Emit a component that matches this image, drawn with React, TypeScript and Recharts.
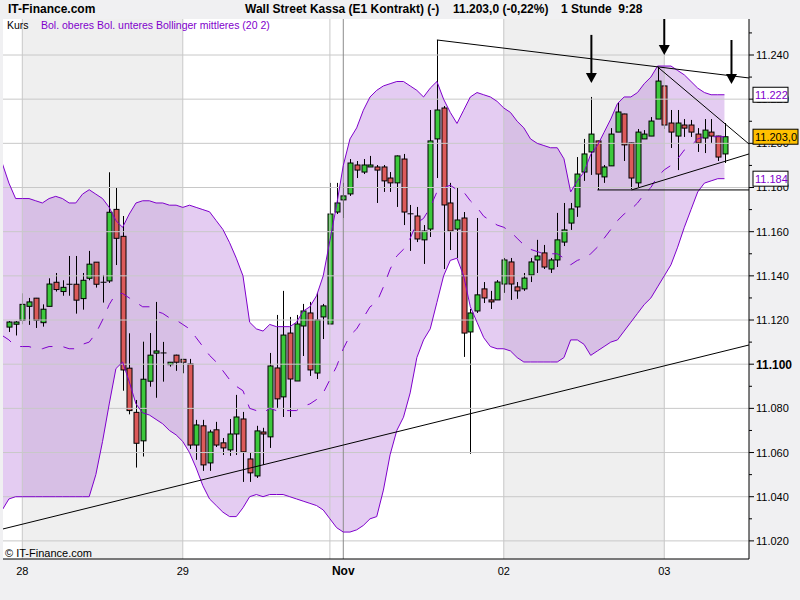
import React from "react";
import {
  ComposedChart,
  XAxis,
  YAxis,
  CartesianGrid,
  Area,
  Line,
  Bar,
  ReferenceLine,
  ReferenceArea,
  ReferenceDot,
} from "recharts";

// hourly index: 0 = 28th 00:00, 24 = 29th, 48 = Nov 1st, ...
const bandStart = -3;
const candleStart = -2;

const upperBand = [
  11191, 11182, 11175, 11175, 11175, 11174, 11173, 11175, 11176, 11175,
  11173, 11173, 11177, 11179, 11177, 11175, 11171, 11165, 11162, 11168,
  11173, 11174, 11174, 11173, 11173, 11172, 11172, 11171, 11172, 11171,
  11170, 11169, 11165, 11161, 11155, 11148, 11140, 11119, 11116, 11115,
  11118, 11117, 11117, 11117, 11119, 11124, 11126, 11131, 11140, 11156,
  11172, 11190, 11202, 11207, 11215, 11221, 11224, 11226, 11227, 11228,
  11228, 11226, 11224, 11221, 11225, 11228, 11220, 11214, 11209, 11215,
  11221, 11223, 11222, 11221, 11219, 11216, 11214, 11210, 11207, 11202,
  11200, 11199, 11198, 11198, 11193, 11178, 11183, 11187, 11195, 11199,
  11205, 11211, 11218, 11221, 11221, 11223, 11227, 11230, 11235, 11235,
  11235, 11233, 11231, 11228, 11225, 11223, 11222, 11222, 11222,
];

const lowerBand = [
  11034, 11039, 11040, 11040, 11040, 11040, 11040, 11040, 11040, 11040,
  11040, 11040, 11040, 11040, 11050, 11065, 11082, 11098, 11101, 11092,
  11082, 11078, 11077, 11075, 11073, 11070, 11068, 11065, 11060, 11053,
  11045, 11039, 11036, 11033, 11031, 11031, 11035, 11040, 11041, 11040,
  11041, 11041, 11041, 11040, 11039, 11038, 11037, 11036, 11034, 11030,
  11026, 11024, 11024, 11025, 11027, 11030, 11031, 11043, 11059, 11070,
  11076, 11087, 11103, 11111, 11116, 11128, 11140, 11147, 11148, 11140,
  11126, 11119, 11112, 11108, 11107, 11107, 11106, 11103, 11101, 11101,
  11101, 11101, 11101, 11101, 11103, 11111, 11111, 11109, 11104, 11106,
  11108, 11110, 11111, 11115, 11119, 11123, 11127, 11130, 11135, 11140,
  11145, 11153, 11162, 11170, 11178, 11182, 11183, 11184, 11184,
];

const middleBand = [
  11113, 11111, 11108, 11108, 11108, 11107, 11107, 11108, 11108, 11108,
  11107, 11107, 11109, 11110, 11114, 11120, 11127, 11132, 11132, 11130,
  11128, 11126, 11126, 11124, 11123, 11121, 11120, 11118, 11116, 11112,
  11108, 11104, 11101, 11097, 11093, 11090, 11088, 11080, 11079, 11078,
  11080, 11079, 11079, 11079, 11079, 11081, 11082, 11084, 11087, 11093,
  11099, 11107, 11113, 11116, 11121, 11126, 11128, 11135, 11143, 11149,
  11152, 11157, 11164, 11166, 11171, 11178, 11180, 11181, 11179, 11178,
  11174, 11171, 11167, 11165, 11163, 11162, 11160, 11157, 11154, 11152,
  11151, 11150, 11150, 11150, 11148, 11145, 11147, 11148, 11150, 11153,
  11157, 11161, 11165, 11168, 11170, 11173, 11177, 11180, 11185, 11188,
  11190, 11193, 11197, 11199, 11202, 11203, 11203, 11203, 11203,
];

const opens = [
  11116.8, 11118.1, 11119.9, 11126.2, 11129.9, 11118.8, 11126.2, 11137.1, 11132.9, 11136.2,
  11136.2, 11129.7, 11138.9, 11146.2, 11137.1, 11137.7, 11170.1, 11157.9, 11098.2, 11078.2,
  11065.3, 11092.3, 11105.0, 11105.0, 11099.8, 11104.1, 11102.2, 11100.1, 11063.4, 11072.1,
  11055.3, 11070.3, 11064.4, 11061.2, 11068.4, 11075.2, 11057.1, 11049.4, 11069.3, 11067.1,
  11098.3, 11085.2, 11114.1, 11092.4, 11117.3, 11123.2, 11096.0, 11121.4, 11118.2, 11168.9,
  11174.4, 11177.1, 11190.2, 11187.0, 11189.3, 11189.3, 11189.3, 11184.3, 11182.1, 11192.9,
  11168.0, 11167.1, 11156.3, 11161.2, 11202.0, 11216.0, 11173.0, 11161.2, 11166.2, 11114.6,
  11124.1, 11134.1, 11129.1, 11129.1, 11136.3, 11146.3, 11135.0, 11134.1, 11140.4, 11147.2,
  11150.4, 11143.1, 11147.2, 11155.3, 11163.9, 11171.2, 11187.0, 11196.1, 11201.1, 11184.8,
  11189.8, 11205.1, 11213.3, 11200.2, 11182.1, 11202.0, 11203.3, 11211.0, 11226.0, 11209.2,
  11203.3, 11208.3, 11208.3, 11204.2, 11202.4, 11205.1, 11203.3, 11195.2,
];

const highs = [
  11119.5, 11119.5, 11132.1, 11130.0, 11130.0, 11127.1, 11138.9, 11141.3, 11138.0, 11149.0,
  11149.0, 11141.3, 11151.3, 11146.2, 11140.4, 11186.9, 11180.2, 11167.1, 11114.0, 11083.8,
  11110.2, 11114.1, 11128.2, 11110.1, 11101.0, 11104.3, 11102.4, 11102.4, 11074.8, 11074.8,
  11070.3, 11073.9, 11066.6, 11075.2, 11086.1, 11078.4, 11059.8, 11072.1, 11071.2, 11105.1,
  11122.3, 11133.2, 11121.4, 11122.3, 11127.3, 11128.2, 11132.3, 11127.3, 11182.1, 11182.1,
  11182.1, 11192.9, 11192.0, 11192.9, 11194.3, 11190.2, 11190.2, 11187.0, 11194.5, 11195.2,
  11172.1, 11171.2, 11163.0, 11215.1, 11246.8, 11216.9, 11182.1, 11179.8, 11168.9, 11125.0,
  11166.2, 11137.2, 11133.2, 11138.1, 11148.1, 11148.1, 11137.2, 11141.3, 11148.1, 11156.3,
  11154.0, 11148.1, 11168.5, 11173.0, 11173.0, 11193.8, 11202.0, 11221.0, 11201.2, 11190.2,
  11206.9, 11218.7, 11213.4, 11200.3, 11206.5, 11206.0, 11211.9, 11234.6, 11226.1, 11215.1,
  11215.1, 11211.0, 11210.6, 11206.9, 11211.0, 11211.0, 11203.4, 11209.2,
];

const lows = [
  11114.6, 11113.0, 11118.1, 11117.8, 11116.4, 11117.0, 11126.2, 11132.9, 11131.0, 11131.0,
  11122.9, 11124.7, 11138.0, 11134.7, 11127.9, 11136.8, 11144.9, 11088.0, 11077.3, 11053.2,
  11058.2, 11089.8, 11084.8, 11092.1, 11098.9, 11097.0, 11095.9, 11061.6, 11056.7, 11051.7,
  11051.7, 11062.5, 11058.9, 11058.5, 11058.9, 11046.7, 11046.7, 11048.5, 11054.4, 11062.1,
  11080.2, 11076.1, 11076.1, 11092.4, 11103.7, 11094.7, 11093.3, 11111.4, 11118.2, 11168.0,
  11166.2, 11176.2, 11184.3, 11186.1, 11189.3, 11173.0, 11178.0, 11178.0, 11171.2, 11163.0,
  11151.3, 11155.3, 11145.4, 11157.6, 11184.3, 11143.1, 11151.7, 11148.1, 11103.3, 11059.4,
  11123.2, 11127.7, 11125.0, 11129.1, 11132.3, 11129.1, 11129.6, 11133.2, 11137.2, 11141.3,
  11143.1, 11141.3, 11144.0, 11153.5, 11160.8, 11166.7, 11183.0, 11185.7, 11178.9, 11182.1,
  11189.8, 11205.1, 11192.0, 11179.3, 11179.8, 11202.0, 11203.3, 11211.0, 11206.5, 11197.9,
  11187.9, 11202.9, 11202.9, 11196.1, 11195.6, 11200.2, 11192.0, 11191.1,
];

const closes = [
  11119.1, 11119.1, 11127.1, 11128.2, 11119.9, 11124.9, 11136.3, 11133.8, 11134.8, 11136.1,
  11129.0, 11138.0, 11145.3, 11136.2, 11137.0, 11168.8, 11157.0, 11097.4, 11079.0, 11064.2,
  11093.2, 11104.1, 11106.0, 11105.1, 11100.9, 11100.9, 11100.9, 11063.4, 11072.5, 11054.4,
  11069.3, 11063.4, 11062.1, 11068.4, 11076.1, 11060.3, 11050.8, 11069.8, 11068.4, 11099.2,
  11084.3, 11113.2, 11093.3, 11118.2, 11124.1, 11097.4, 11120.0, 11126.4, 11168.0, 11173.0,
  11176.2, 11191.1, 11187.9, 11190.2, 11190.2, 11187.9, 11183.0, 11182.1, 11194.3, 11168.9,
  11168.1, 11156.7, 11160.3, 11201.1, 11215.1, 11172.1, 11160.3, 11165.3, 11114.1, 11123.2,
  11131.4, 11130.0, 11128.2, 11137.2, 11147.2, 11136.3, 11133.2, 11139.0, 11146.3, 11149.0,
  11144.0, 11147.2, 11156.3, 11160.8, 11170.3, 11186.1, 11195.2, 11204.2, 11186.1, 11189.3,
  11204.2, 11214.2, 11199.3, 11184.3, 11205.1, 11204.2, 11210.1, 11228.2, 11208.3, 11205.1,
  11209.2, 11206.9, 11205.1, 11200.2, 11206.0, 11203.3, 11193.8, 11203.0,
];

const dayTicks = [0, 24, 48, 72, 96];
const dayLabels = ["28", "29", "Nov", "02", "03"];
const priceTicks = [
  11020, 11030, 11040, 11050, 11060, 11070, 11080, 11090, 11100, 11110, 11120, 11130,
  11140, 11150, 11160, 11170, 11180, 11190, 11200, 11210, 11220, 11230, 11240, 11250,
];

// last values shown in boxes on the price axis (drawn after the regular ticks)
const markValues = [11222, 11203, 11184];
const markLabels = ["11.222", "11.203,0", "11.184"];

const xDomain = [-2.886, 108.67];
const yDomain = [11011.8, 11256.3];

const PURPLE = "#7f00cc";
const GREEN = "#3cc83c";
const RED = "#dc5a5a";
const FONT = '"Liberation Sans", Arial, sans-serif';

const rows = upperBand.map((up, k) => {
  const i = bandStart + k;
  const j = i - candleStart;
  const has = j >= 0 && j < opens.length;
  return {
    i,
    up,
    lo: lowerBand[k],
    mid: middleBand[k],
    band: [lowerBand[k], up],
    o: has ? opens[j] : null,
    h: has ? highs[j] : null,
    l: has ? lows[j] : null,
    c: has ? closes[j] : null,
    range: has ? [lows[j], highs[j]] : null,
  };
});

const fmt = (v: number) => {
  const s = String(Math.round(v));
  return s.slice(0, -3) + "." + s.slice(-3);
};

const Candle = (props: any) => {
  const { x, y, width, height, payload } = props;
  if (!payload || payload.o == null) return null;
  const { o, h, l, c } = payload;
  const cx = Math.round(x + width / 2) + 0.5;
  const span = h - l;
  const k = span > 0 ? height / span : 0;
  const py = (v: number) => y + (h - v) * k;
  const top = py(Math.max(o, c));
  const bot = py(Math.min(o, c));
  return (
    <g>
      <line x1={cx} x2={cx} y1={y} y2={y + height} stroke="#000" strokeWidth={1} />
      {bot - top < 1.2 ? (
        <line x1={cx - 3} x2={cx + 3} y1={top} y2={top} stroke="#000" strokeWidth={1} />
      ) : (
        <rect
          x={cx - 2.5}
          y={top}
          width={5}
          height={bot - top}
          fill={c >= o ? GREEN : RED}
          stroke="#000"
          strokeWidth={1}
        />
      )}
    </g>
  );
};

const PriceTick = (props: any) => {
  const { x, y, payload } = props;
  const v = payload.value;
  const n = markValues.indexOf(v);
  if (n >= 0) {
    const current = n === 1;
    const left = x - 2;
    return (
      <g>
        <rect
          x={left}
          y={y - 7.5}
          width={current ? 45 : 35}
          height={15}
          fill={current ? "#ffc000" : "#ffffff"}
          stroke="#000"
        />
        <text
          x={left + 2}
          y={y}
          dy="0.36em"
          fontSize={11}
          fontFamily={FONT}
          fill={current ? "#000" : PURPLE}
        >
          {markLabels[n]}
        </text>
      </g>
    );
  }
  const major = Math.round(v) % 20 === 0;
  const bold = Math.round(v) === 11100;
  return (
    <g>
      <line x1={x - 6} x2={major ? x - 1 : x - 3} y1={y} y2={y} stroke="#000" />
      {major && (
        <text
          x={x + 1}
          y={y}
          dy="0.36em"
          fontSize={bold ? 12 : 11}
          fontWeight={bold ? "bold" : "normal"}
          fontFamily={FONT}
          fill="#000"
        >
          {fmt(v)}
        </text>
      )}
    </g>
  );
};

const DayTick = (props: any) => {
  const { x, y, payload } = props;
  const idx = dayTicks.indexOf(payload.value);
  const label = dayLabels[idx] ?? "";
  const bold = label === "Nov";
  return (
    <text
      x={x}
      y={y + 16}
      textAnchor="middle"
      fontSize={bold ? 12 : 11}
      fontWeight={bold ? "bold" : "normal"}
      fontFamily={FONT}
      fill="#000"
    >
      {label}
    </text>
  );
};

const arrowHead = (props: any) => {
  const { cx, cy } = props;
  return (
    <polygon
      points={`${cx - 5.5},${cy - 10} ${cx + 5.5},${cy - 10} ${cx},${cy}`}
      fill="#000"
    />
  );
};

const arrows = [
  { x: 85.1, top: 11249.1, tip: 11227.3 },
  { x: 96.0, top: 11256.3, tip: 11240.0 },
  { x: 106.05, top: 11246.8, tip: 11226.9 },
];

const trendLines = [
  [{ x: -2.886, y: 11025.4 }, { x: 108.67, y: 11108.7 }],
  [{ x: 62, y: 11246.8 }, { x: 108.67, y: 11229.6 }],
  [{ x: 95, y: 11234.6 }, { x: 108.67, y: 11199.7 }],
  [{ x: 86, y: 11178.9 }, { x: 108.67, y: 11178.9 }],
  [{ x: 91.1, y: 11178.9 }, { x: 108.67, y: 11195.2 }],
];

const txt = (style: React.CSSProperties): React.CSSProperties => ({
  position: "absolute",
  fontFamily: FONT,
  whiteSpace: "pre",
  lineHeight: "14px",
  ...style,
});

export default function App() {
  return (
    <div
      style={{
        position: "absolute",
        left: 0,
        top: 0,
        width: 800,
        height: 600,
        background: "#f0f0f2",
        overflow: "hidden",
      }}
    >
      <ComposedChart
        width={800}
        height={600}
        data={rows}
        margin={{ top: 19, right: 0, bottom: 0, left: 3 }}
      >
        <CartesianGrid horizontal={false} vertical={false} fill="#ffffff" />
        <XAxis
          dataKey="i"
          type="number"
          domain={xDomain}
          allowDataOverflow
          ticks={dayTicks}
          tick={<DayTick />}
          tickLine={false}
          tickSize={0}
          tickMargin={0}
          axisLine={{ stroke: "#000" }}
          height={41}
          interval={0}
        />
        <XAxis
          xAxisId="top"
          orientation="top"
          dataKey="i"
          type="number"
          domain={xDomain}
          allowDataOverflow
          tick={false}
          tickLine={false}
          axisLine={{ stroke: "#000" }}
          height={0}
        />
        <YAxis
          orientation="right"
          type="number"
          domain={yDomain}
          allowDataOverflow
          ticks={[...priceTicks, ...markValues]}
          tick={<PriceTick />}
          tickLine={false}
          tickSize={5}
          tickMargin={1}
          axisLine={{ stroke: "#000" }}
          width={51}
          interval={0}
        />
        <YAxis
          yAxisId="left"
          orientation="left"
          type="number"
          domain={yDomain}
          allowDataOverflow
          tick={false}
          tickLine={false}
          axisLine={{ stroke: "#000" }}
          width={0}
        />

        <ReferenceArea x1={0} x2={24} fill="#efefef" fillOpacity={1} stroke="none" />
        <ReferenceArea x1={72} x2={96} fill="#efefef" fillOpacity={1} stroke="none" />

        {priceTicks
          .filter((v) => v % 20 === 0 && v < 11250)
          .map((v) => (
            <ReferenceLine key={"h" + v} y={v} stroke="#c8c8c8" strokeWidth={1} />
          ))}
        {[0, 24, 46, 72, 96].map((v) => (
          <ReferenceLine key={"v" + v} x={v} stroke="#c8c8c8" strokeWidth={1} />
        ))}
        <ReferenceLine x={48} stroke="#8c8c8c" strokeWidth={1} />

        <Area
          type="linear"
          dataKey="band"
          stroke="none"
          fill="#7800be"
          fillOpacity={0.2}
          isAnimationActive={false}
          activeDot={false}
        />
        <Line
          type="linear"
          dataKey="up"
          stroke={PURPLE}
          strokeWidth={1}
          dot={false}
          activeDot={false}
          isAnimationActive={false}
        />
        <Line
          type="linear"
          dataKey="lo"
          stroke={PURPLE}
          strokeWidth={1}
          dot={false}
          activeDot={false}
          isAnimationActive={false}
        />
        <Line
          type="linear"
          dataKey="mid"
          stroke={PURPLE}
          strokeWidth={1}
          strokeDasharray="11 11"
          dot={false}
          activeDot={false}
          isAnimationActive={false}
        />

        {trendLines.map((seg, n) => (
          <ReferenceLine key={"t" + n} segment={seg} stroke="#000" strokeWidth={1} />
        ))}

        <Bar
          dataKey="range"
          barSize={5}
          shape={<Candle />}
          isAnimationActive={false}
        />

        {arrows.map((a, n) => (
          <ReferenceLine
            key={"a" + n}
            segment={[
              { x: a.x, y: a.top },
              { x: a.x, y: a.tip + 3 },
            ]}
            stroke="#000"
            strokeWidth={2}
          />
        ))}
        {arrows.map((a, n) => (
          <ReferenceDot key={"ah" + n} x={a.x} y={a.tip} shape={arrowHead} />
        ))}
      </ComposedChart>

      <div style={txt({ left: 8, top: 2, fontSize: 12, fontWeight: "bold" })}>IT-Finance.com</div>
      <div style={txt({ left: 245, top: 2, fontSize: 12, fontWeight: "bold" })}>
        Wall Street Kassa (E1 Kontrakt) (-)
      </div>
      <div style={txt({ left: 453, top: 2, fontSize: 12, fontWeight: "bold" })}>11.203,0 (-0,22%)</div>
      <div style={txt({ left: 561, top: 2, fontSize: 12, fontWeight: "bold" })}>1 Stunde  9:28</div>

      <div style={txt({ left: 7, top: 18, fontSize: 10.5 })}>Kurs</div>
      <div style={txt({ left: 41, top: 18, fontSize: 10.5, color: PURPLE })}>
        Bol. oberes Bol. unteres Bollinger mittleres (20 2)
      </div>
      <div style={txt({ left: 5, top: 546, fontSize: 11 })}>© IT-Finance.com</div>
    </div>
  );
}
